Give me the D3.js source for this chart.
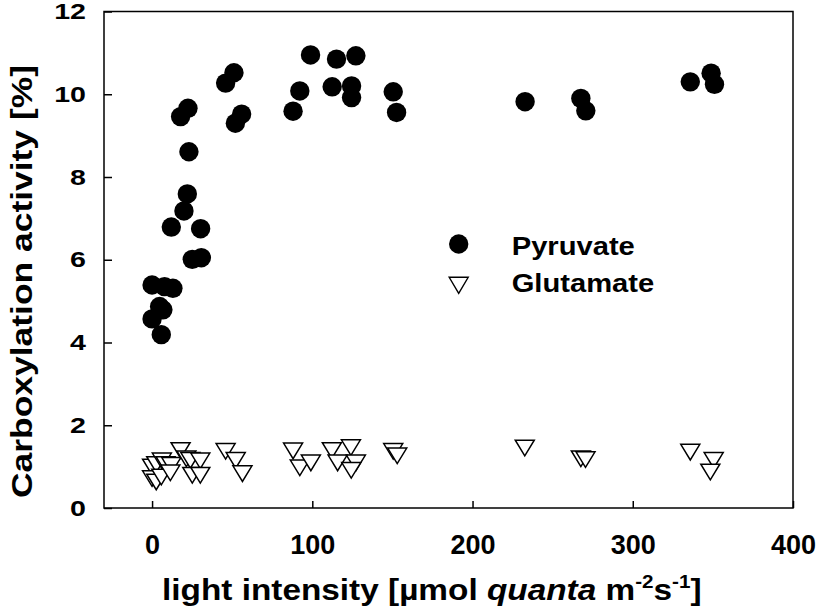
<!DOCTYPE html>
<html>
<head>
<meta charset="utf-8">
<script src="https://cdn.jsdelivr.net/npm/d3@7"></script>
<style>
	body { margin: 0; background: #fff; }
	text { font-family: "Liberation Sans", Arial, sans-serif; font-weight: bold; fill: #000; }
</style>
</head>
<body>
<div id="chart"></div>
<script>
// light intensity values and carboxylation activity
var pyruvateX = [0, 7.8, 13, 4.7, 6.75, 0, 5.75, 12, 30.3, 25.1, 30.75, 19.9, 22, 23, 17.8, 22.4, 45.9, 51.1, 52, 55.9,
	88, 92.2, 98.9, 112.4, 115.1, 124.5, 124.5, 127.2, 150.5, 152.6, 232.8, 267.6, 270.7, 335.9, 348.9, 351];
var pyruvateY = [5.39, 5.35, 5.31, 4.87, 4.79, 4.57, 4.19, 6.79, 6.75, 6.01, 6.05, 7.18, 7.59, 8.61, 9.46, 9.66, 10.27, 10.52, 9.3, 9.52,
	9.59, 10.08, 10.95, 10.18, 10.85, 10.2, 9.92, 10.93, 10.06, 9.56, 9.82, 9.9, 9.6, 10.3, 10.51, 10.24];

var glutamateX = [17.8, 0, 2.6, 6.1, 8.4, 12, 21.4, 23.9, 30.1, 0, 2.6, 5.75, 11.4, 25.1, 30.1, 45.9, 52.2, 56.4,
	88, 92.2, 99.1, 112.2, 124.1, 115.8, 127.2, 124.3, 150.5, 153, 232.6, 267.6, 270.5, 335.9, 350.5, 348.4];
var glutamateY = [1.39, 0.99, 1.05, 1.14, 1.05, 1.03, 1.19, 1.15, 1.14, 0.71, 0.63, 0.75, 0.85, 0.79, 0.79, 1.37, 1.15, 0.83,
	1.38, 0.97, 1.09, 1.39, 1.46, 1.09, 1.09, 0.91, 1.37, 1.26, 1.45, 1.19, 1.17, 1.35, 1.15, 0.87];

var xTicks = [0, 100, 200, 300, 400];
var yTicks = [0, 2, 4, 6, 8, 10, 12];
var seriesNames = ["Pyruvate", "Glutamate"];

var margin = {
		top: 11.5,
		right: 27,
		bottom: 104,
		left: 104
	},
	width = 820 - margin.left - margin.right,
	height = 612 - margin.top - margin.bottom;

var svg = d3.select("#chart")
	.append("svg")
	.attr("width", 820)
	.attr("height", 612);

var g = svg.append("g")
	.attr("transform", "translate(" + margin.left + "," + margin.top + ")");

var x = d3.scaleLinear()
	.domain([-30, 400])
	.range([0, width]);

var y = d3.scaleLinear()
	.domain([0, 12])
	.range([height, 0]);

// ticks point inwards
var xAxis = g.append("g")
	.attr("transform", "translate(0," + height + ")")
	.call(d3.axisBottom(x).tickValues(xTicks).tickSize(-7).tickPadding(27));
xAxis.select(".domain").remove();
xAxis.selectAll("line").attr("stroke", "#000").attr("stroke-width", 1.5);
xAxis.selectAll("text").style("font-size", "27px");

var yAxis = g.append("g")
	.call(d3.axisLeft(y).tickValues(yTicks).tickSize(-8).tickPadding(18));
yAxis.select(".domain").remove();
yAxis.selectAll("line").attr("stroke", "#000").attr("stroke-width", 1.5);
yAxis.selectAll("text")
	.style("font-size", "22px")
	.attr("x", 0)
	.attr("transform", "translate(-18,0) scale(1.3,1)");

// frame
g.append("rect")
	.attr("x", 0)
	.attr("y", 0)
	.attr("width", width)
	.attr("height", height)
	.attr("fill", "none")
	.attr("stroke", "#000")
	.attr("stroke-width", 1.5);

var radius = 9.7;
var triW = 19, triH = 15.6;
function triangle(w, h) {
	return "M" + (-w / 2) + "," + (-h / 2) + "L" + (w / 2) + "," + (-h / 2) + "L0," + (h / 2) + "Z";
}

var glutamate = glutamateX.map(function (d, i) { return { x: d, y: glutamateY[i] }; });
var pyruvate = pyruvateX.map(function (d, i) { return { x: d, y: pyruvateY[i] }; });

g.selectAll("path.glu")
	.data(glutamate)
	.enter()
	.append("path")
	.attr("class", "glu")
	.attr("d", triangle(triW, triH))
	.attr("transform", function (d) {
		return "translate(" + x(d.x) + "," + y(d.y) + ")";
	})
	.attr("fill", "#fff")
	.attr("stroke", "#000")
	.attr("stroke-width", 1.5);

g.selectAll("circle.pyr")
	.data(pyruvate)
	.enter()
	.append("circle")
	.attr("class", "pyr")
	.attr("cx", function (d) { return x(d.x); })
	.attr("cy", function (d) { return y(d.y); })
	.attr("r", radius)
	.attr("fill", "#000");

// legend
var legend = svg.append("g").attr("transform", "translate(458.7,0)");
legend.append("circle")
	.attr("cx", 0)
	.attr("cy", 244)
	.attr("r", radius)
	.attr("fill", "#000");
legend.append("path")
	.attr("d", triangle(19, 16))
	.attr("transform", "translate(0,285.3)")
	.attr("fill", "#fff")
	.attr("stroke", "#000")
	.attr("stroke-width", 1.4);
legend.selectAll("text.lab")
	.data(seriesNames)
	.enter()
	.append("text")
	.attr("class", "lab")
	.attr("transform", function (d, i) {
		return "translate(53," + (255 + i * 37.3) + ") scale(1.1,1)";
	})
	.style("font-size", "26.5px")
	.text(function (d) { return d; });

// axis titles
var xTitle = svg.append("text")
	.attr("transform", "translate(162,600) scale(1.15,1)")
	.style("font-size", "29px");
xTitle.append("tspan").text("light intensity [µmol ");
xTitle.append("tspan").style("font-style", "italic").text("quanta");
xTitle.append("tspan").text(" m");
xTitle.append("tspan").attr("dy", -12).style("font-size", "18px").text("-2");
xTitle.append("tspan").attr("dy", 12).text("s");
xTitle.append("tspan").attr("dy", -12).style("font-size", "18px").text("-1");
xTitle.append("tspan").attr("dy", 12).text("]");

svg.append("text")
	.attr("transform", "translate(32,281.5) rotate(-90)")
	.attr("text-anchor", "middle")
	.attr("textLength", 433)
	.attr("lengthAdjust", "spacingAndGlyphs")
	.style("font-size", "30px")
	.text("Carboxylation activity [%]");
</script>
</body>
</html>
